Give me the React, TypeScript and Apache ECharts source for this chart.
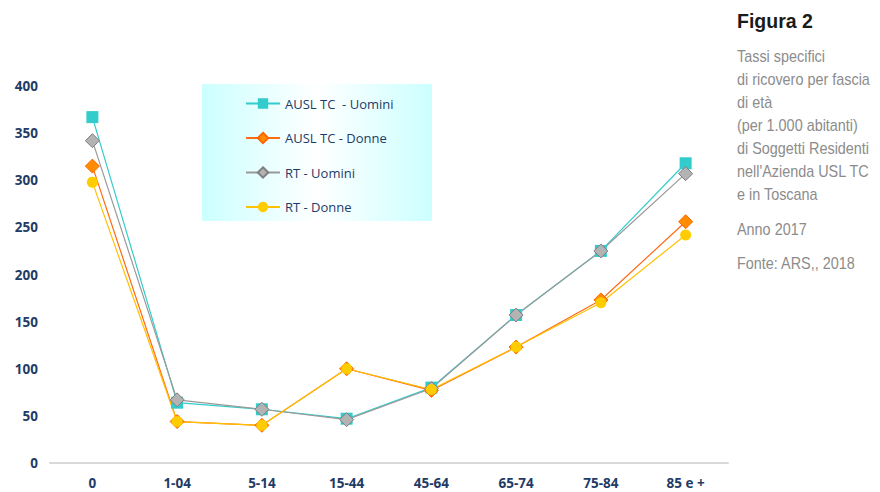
import React, { useEffect, useRef } from "react";
import * as echarts from "echarts";

const categories = ["0", "1-04", "5-14", "15-44", "45-64", "65-74", "75-84", "85 e +"];
const auslUomini = [367, 64, 57, 47, 80, 157, 225, 318];
const auslDonne = [315, 44, 40, 100, 77, 123, 173, 256];
const rtUomini = [342, 67, 57, 46, 79, 157, 225, 307];
const rtDonne = [298, 44, 40, 100, 78, 123, 170, 242];
const seriesNames = ["AUSL TC  - Uomini", "AUSL TC - Donne", "RT - Uomini", "RT - Donne"];
const yTicks = { min: 0, max: 400, interval: 50 };

const sideTitle = "Figura 2";
const sideLines = [
  "Tassi specifici",
  "di ricovero per fascia",
  "di età",
  "(per 1.000 abitanti)",
  "di Soggetti Residenti",
  "nell'Azienda USL TC",
  "e in Toscana",
];
const sideYear = "Anno 2017";
const sideSource = "Fonte: ARS,, 2018";

export default function App() {
  const ref = useRef<HTMLDivElement>(null);
  useEffect(() => {
    if (!ref.current) return;
    const chart = echarts.init(ref.current, null, { renderer: "svg" });
    const axisColor = "#1f3b66";
    const sideFont = "'Liberation Sans', Arial, sans-serif";
    const sideText = (t: string, y: number) => ({
      type: "text",
      x: 737,
      y,
      scaleX: 0.9,
      style: { text: t, font: `16px ${sideFont}`, fill: "#8c8c8c", textVerticalAlign: "middle" },
    });
    const sideGraphics: any[] = [
      {
        type: "text",
        x: 737,
        y: 21,
        style: {
          text: sideTitle,
          font: "bold 19.5px 'Liberation Sans', Arial, sans-serif",
          fill: "#1a1a1a",
          textVerticalAlign: "middle",
        },
      },
    ];
    sideLines.forEach((t, i) => sideGraphics.push(sideText(t, 56 + i * 23)));
    sideGraphics.push(sideText(sideYear, 229));
    sideGraphics.push(sideText(sideSource, 263));

    chart.setOption({
      animation: false,
      backgroundColor: "#ffffff",
      grid: { left: 50, right: 152, top: 86, bottom: 29, containLabel: false },
      graphic: [
        {
          type: "rect",
          left: 202,
          top: 84,
          z: -1,
          shape: { width: 230, height: 137 },
          style: {
            fill: new echarts.graphic.LinearGradient(0, 0, 1, 0, [
              { offset: 0, color: "#ccffff" },
              { offset: 0.5, color: "#ffffff" },
              { offset: 1, color: "#ccffff" },
            ]),
          },
        },
        ...sideGraphics,
      ],
      legend: {
        orient: "vertical",
        left: 240,
        top: 92,
        itemWidth: 34,
        itemHeight: 13,
        itemGap: 21.5,
        data: seriesNames,
        textStyle: { color: "#1f3b66", fontSize: 13, fontFamily: "'Open Sans', sans-serif" },
      },
      xAxis: {
        type: "category",
        data: categories,
        boundaryGap: true,
        axisLine: { lineStyle: { color: "#d9d9d9", width: 2 } },
        axisTick: { show: false },
        axisLabel: {
          color: axisColor,
          fontWeight: "bold",
          fontSize: 13.5,
          fontFamily: "'Open Sans', sans-serif",
          margin: 13,
        },
      },
      yAxis: {
        type: "value",
        min: yTicks.min,
        max: yTicks.max,
        interval: yTicks.interval,
        axisLine: { show: false },
        axisTick: { show: false },
        splitLine: { show: false },
        axisLabel: {
          color: axisColor,
          fontWeight: "bold",
          fontSize: 13.5,
          fontFamily: "'Open Sans', sans-serif",
          margin: 12,
        },
      },
      series: [
        {
          name: seriesNames[0],
          type: "line",
          data: auslUomini,
          symbol: "rect",
          symbolSize: 12,
          lineStyle: { color: "#33cccc", width: 1.2 },
          itemStyle: { color: "#33cccc" },
        },
        {
          name: seriesNames[1],
          type: "line",
          data: auslDonne,
          symbol: "diamond",
          symbolSize: 14,
          lineStyle: { color: "#ff6a13", width: 1.2 },
          itemStyle: { color: "#ff8c00", borderColor: "#ff6600", borderWidth: 1 },
        },
        {
          name: seriesNames[2],
          type: "line",
          data: rtUomini,
          symbol: "diamond",
          symbolSize: 14,
          lineStyle: { color: "#999999", width: 1.2 },
          itemStyle: { color: "#b3b3b3", borderColor: "#7f7f7f", borderWidth: 1 },
        },
        {
          name: seriesNames[3],
          type: "line",
          data: rtDonne,
          symbol: "circle",
          symbolSize: 11,
          lineStyle: { color: "#ffc000", width: 1.2 },
          itemStyle: { color: "#ffcc00" },
        },
      ],
    });
    return () => chart.dispose();
  }, []);
  return <div ref={ref} style={{ width: 880, height: 492, position: "absolute", left: 0, top: 0 }} />;
}
